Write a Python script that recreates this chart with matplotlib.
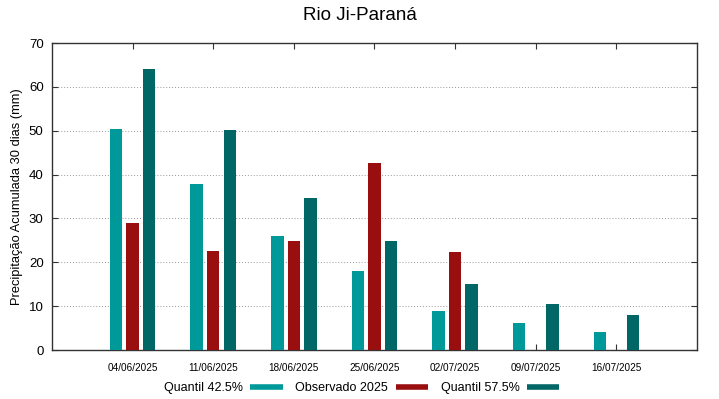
import matplotlib
matplotlib.use("Agg")
import matplotlib.pyplot as plt
from matplotlib.lines import Line2D
import numpy as np

plt.rcParams['font.family'] = ['Liberation Sans', 'DejaVu Sans']

dates = ["04/06/2025", "11/06/2025", "18/06/2025", "25/06/2025",
         "02/07/2025", "09/07/2025", "16/07/2025"]
q425 = [50.5, 37.8, 25.9, 18.0, 9.0, 6.1, 4.1]
obs2025 = [29.0, 22.6, 24.9, 42.7, 22.3, 0, 0]
q575 = [64.1, 50.2, 34.7, 24.9, 15.0, 10.5, 7.9]

series_names = ["Quantil 42.5%", "Observado 2025", "Quantil 57.5%"]
colors = ["#009999", "#990e0e", "#006666"]

fig = plt.figure(figsize=(7.19, 3.99), dpi=100)
ax = fig.add_axes([0.0723, 0.1228, 0.8971, 0.7694])

x = np.arange(len(dates))
w = 0.155
offs = [-0.205, 0.0, 0.205]
for vals, off, c in zip([q425, obs2025, q575], offs, colors):
    ax.bar(x + off, vals, width=w, color=c, zorder=3)

ax.set_xlim(-1, 7)
ax.set_ylim(0, 70)
ax.set_xticks(x)
ax.set_xticklabels(dates, fontsize=7.2)
ax.set_yticks(np.arange(0, 71, 10))
ax.tick_params(axis='y', labelsize=9.5)
ax.tick_params(direction='in', top=True, right=True, length=4, color='#333333', pad=6)
ax.tick_params(axis='x', pad=9)
ax.yaxis.grid(True, linestyle=(0, (1, 2)), color='#999999', linewidth=0.7, zorder=0)
for s in ax.spines.values():
    s.set_color('#333333')
    s.set_linewidth(1.0)

ax.set_ylabel("Precipitação Acumulada 30 dias (mm)", fontsize=9.3)
fig.text(0.5, 0.96, "Rio Ji-Paraná", ha='center', va='center', fontsize=13.5)

handles = [Line2D([0], [0], color=c, lw=4, solid_capstyle='butt') for c in colors]
fig.legend(handles, series_names, loc='center', bbox_to_anchor=(0.503, 0.027),
           ncol=3, frameon=False, markerfirst=False, fontsize=9,
           handlelength=2.6, handletextpad=0.6, columnspacing=1.0)

fig.savefig("out.png", dpi=100)
